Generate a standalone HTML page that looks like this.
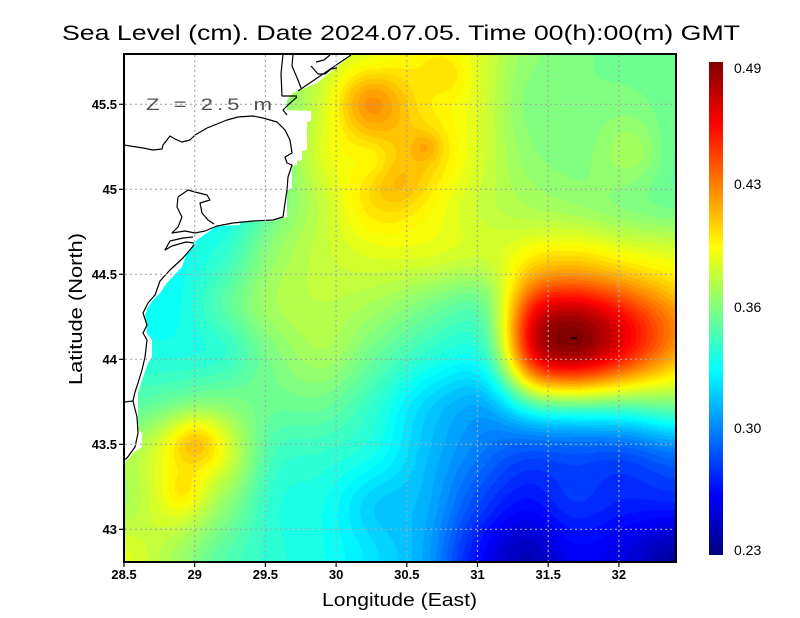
<!DOCTYPE html>
<html><head><meta charset="utf-8">
<style>
html,body{margin:0;padding:0;background:#fff;}
body{width:800px;height:618px;position:relative;overflow:hidden;}
#c{position:absolute;left:124px;top:54px;width:552px;height:508px;background:#90ff70;}
svg{position:absolute;left:0;top:0;}
</style></head><body>
<canvas id="c" width="552" height="508"></canvas>
<svg width="800" height="618" viewBox="0 0 800 618" xmlns="http://www.w3.org/2000/svg">
<defs>
<linearGradient id="jet" x1="0" y1="0" x2="0" y2="1">
<stop offset="0" stop-color="#800000"/>
<stop offset="0.125" stop-color="#ff0000"/>
<stop offset="0.375" stop-color="#ffff00"/>
<stop offset="0.625" stop-color="#00ffff"/>
<stop offset="0.875" stop-color="#0000ff"/>
<stop offset="1" stop-color="#000080"/>
</linearGradient>
</defs>
<!-- land mask -->
<polygon fill="#ffffff" points="124,54 353,54 345,60 333,70 317,83 293,93 287,100 287,110 311,111 311,121 307,122 307,150 302,151 302,160 297,161 297,165 292,166 292,189 287,190 287,217 283,218 273,221 240,222 240,225 217,226 207,233 197,240 187,253 182,267 177,272 167,283 160,293 153,300 148,307 145,315 147,333 152,340 152,357 148,363 142,380 138,393 138,430 142,433 142,447 133,453 125,463 124,463"/>
<!-- coastline -->
<g fill="none" stroke="#000" stroke-width="1.2" stroke-linejoin="round">
<polyline points="124,145 143,148 153,150 162,149 163,145 170,136 175,139 182,142 190,140 195,135 207,128 227,120 238,117 253,116 263,118 277,122 285,130 290,140 292,153 285,157 287,163 292,165 288,177 287,190 285,203 283,217 273,220 253,221 233,223 217,226 205,231 195,233"/>
<polyline points="178,197 188,190 195,192 207,195 210,200 200,203 202,213 208,220 214,224"/>
<polyline points="178,197 177,207 182,217 178,227 172,233 185,231 195,233"/>
<polyline points="193,237 183,238 170,241 165,250 172,246 186,242 194,243"/>
<polyline points="194,245 183,258 170,270 160,281 155,295 148,303 143,313 147,325 143,333 147,340 145,357 142,370 138,383 135,392 133,401 137,417 138,433 135,447 127,458 124,460"/>
<polyline points="124,402 133,401"/>
<polyline points="283,54 281,74 282,96 297,96"/>
<polyline points="293,54 292,66 298,80 301,88"/>
<polyline points="298,91 351,55"/>
<polyline points="311,66 318,74 325,74 331,69 337,68"/>
<polyline points="316,62 324,60 330,55"/>
<polyline points="297,97 289,104 283,110 287,115"/>
<line x1="571" y1="338" x2="577" y2="338" stroke-width="1.5"/>
</g>
<!-- grid -->
<g stroke="#a8a8a8" stroke-width="1.2" stroke-dasharray="2 3">
<line x1="194.7" y1="55" x2="194.7" y2="561"/>
<line x1="265.4" y1="55" x2="265.4" y2="561"/>
<line x1="336.1" y1="55" x2="336.1" y2="561"/>
<line x1="406.8" y1="55" x2="406.8" y2="561"/>
<line x1="477.5" y1="55" x2="477.5" y2="561"/>
<line x1="548.2" y1="55" x2="548.2" y2="561"/>
<line x1="618.9" y1="55" x2="618.9" y2="561"/>
<line x1="125" y1="529.3" x2="675" y2="529.3"/>
<line x1="125" y1="444.3" x2="675" y2="444.3"/>
<line x1="125" y1="359.3" x2="675" y2="359.3"/>
<line x1="125" y1="274.3" x2="675" y2="274.3"/>
<line x1="125" y1="189.3" x2="675" y2="189.3"/>
<line x1="125" y1="104.3" x2="675" y2="104.3"/>
</g>
<!-- frame -->
<rect x="124" y="54" width="552" height="508" fill="none" stroke="#000" stroke-width="2"/>
<!-- ticks -->
<g stroke="#000" stroke-width="1.2">
<line x1="119" y1="529.3" x2="124" y2="529.3"/>
<line x1="119" y1="444.3" x2="124" y2="444.3"/>
<line x1="119" y1="359.3" x2="124" y2="359.3"/>
<line x1="119" y1="274.3" x2="124" y2="274.3"/>
<line x1="119" y1="189.3" x2="124" y2="189.3"/>
<line x1="119" y1="104.3" x2="124" y2="104.3"/>
<line x1="124" y1="562" x2="124" y2="567"/>
<line x1="194.7" y1="562" x2="194.7" y2="567"/>
<line x1="265.4" y1="562" x2="265.4" y2="567"/>
<line x1="336.1" y1="562" x2="336.1" y2="567"/>
<line x1="406.8" y1="562" x2="406.8" y2="567"/>
<line x1="477.5" y1="562" x2="477.5" y2="567"/>
<line x1="548.2" y1="562" x2="548.2" y2="567"/>
<line x1="618.9" y1="562" x2="618.9" y2="567"/>
</g>
<!-- tick labels -->
<g font-family="Liberation Sans, sans-serif" font-size="13" font-weight="bold" fill="#000">
<g text-anchor="end">
<text x="117" y="534">43</text>
<text x="117" y="449">43.5</text>
<text x="117" y="364">44</text>
<text x="117" y="279">44.5</text>
<text x="117" y="194">45</text>
<text x="117" y="109">45.5</text>
</g>
<g text-anchor="middle">
<text x="124" y="579">28.5</text>
<text x="194.7" y="579">29</text>
<text x="265.4" y="579">29.5</text>
<text x="336.1" y="579">30</text>
<text x="406.8" y="579">30.5</text>
<text x="477.5" y="579">31</text>
<text x="548.2" y="579">31.5</text>
<text x="618.9" y="579">32</text>
</g>
</g>
<!-- titles -->
<g font-family="Liberation Sans, sans-serif" fill="#000">
<text x="62" y="40" font-size="21" textLength="678" lengthAdjust="spacingAndGlyphs">Sea Level (cm). Date 2024.07.05. Time 00(h):00(m) GMT</text>
<text x="399.5" y="606" font-size="18" text-anchor="middle" textLength="155" lengthAdjust="spacingAndGlyphs">Longitude (East)</text>
<text transform="translate(82,309) rotate(-90)" x="0" y="0" font-size="18" text-anchor="middle" textLength="152" lengthAdjust="spacingAndGlyphs">Latitude (North)</text>
<text x="146" y="110" font-size="17" fill="#505050" textLength="130" lengthAdjust="spacingAndGlyphs" letter-spacing="3">Z = 2.5 m</text>
</g>
<!-- colorbar -->
<rect x="709" y="62" width="14" height="493" fill="url(#jet)"/>
<g font-family="Liberation Sans, sans-serif" font-size="14" fill="#000">
<text x="734" y="73">0.49</text>
<text x="734" y="189">0.43</text>
<text x="734" y="312">0.36</text>
<text x="734" y="433">0.30</text>
<text x="734" y="555">0.23</text>
</g>
</svg>
<script>
(function(){
var G=[
[0.37,0.37,0.37,0.37,0.375,0.385,0.395,0.385,0.365,0.36,0.355,0.355],
[0.35,0.35,0.35,0.36,0.38,0.41,0.398,0.385,0.362,0.358,0.36,0.355],
[0.34,0.34,0.34,0.355,0.385,0.40,0.405,0.385,0.365,0.36,0.365,0.352],
[0.33,0.33,0.33,0.355,0.378,0.40,0.395,0.38,0.37,0.365,0.36,0.355],
[0.33,0.33,0.34,0.365,0.378,0.385,0.385,0.38,0.375,0.375,0.37,0.37],
[0.33,0.33,0.35,0.37,0.375,0.37,0.36,0.35,0.35,0.35,0.35,0.35],
[0.335,0.335,0.34,0.36,0.37,0.355,0.34,0.33,0.33,0.33,0.33,0.33],
[0.35,0.355,0.36,0.355,0.355,0.34,0.318,0.305,0.30,0.30,0.31,0.33],
[0.37,0.385,0.38,0.345,0.34,0.332,0.312,0.295,0.28,0.28,0.28,0.29],
[0.37,0.385,0.365,0.338,0.332,0.315,0.308,0.282,0.265,0.275,0.27,0.27],
[0.385,0.37,0.35,0.338,0.332,0.32,0.305,0.268,0.245,0.26,0.255,0.24]];
var NX=12,NY=11;
function g(i,j){if(i<0)i=0;if(i>NX-1)i=NX-1;if(j<0)j=0;if(j>NY-1)j=NY-1;return G[j][i];}
function cr(p0,p1,p2,p3,t){return 0.5*((2*p1)+(-p0+p2)*t+(2*p0-5*p1+4*p2-p3)*t*t+(-p0+3*p1-3*p2+p3)*t*t*t);}
function base(x,y){
 var fx=(x-124)/50, fy=(y-54)/50;
 var i=Math.floor(fx), j=Math.floor(fy);
 var tx=fx-i, ty=fy-j;
 var r=[];
 for(var m=-1;m<=2;m++){r.push(cr(g(i-1,j+m),g(i,j+m),g(i+1,j+m),g(i+2,j+m),tx));}
 return cr(r[0],r[1],r[2],r[3],ty);
}
var B=[[362,98,0.012,24],[400,185,0.008,18],[426,147,0.01,10],[450,75,0.008,15],
[195,440,0.026,20],[185,492,0.012,14],[370,160,-0.006,14],[640,150,0.006,20]];
function val(x,y){
 var b=base(x,y);
 for(var k=0;k<B.length;k++){
  var dx=x-B[k][0],dy=y-B[k][1],s=B[k][3];
  b+=B[k][2]*Math.exp(-(dx*dx+dy*dy)/(2*s*s));
 }
 var ex=x-575, ey=y-338, Lx, Ly;
 if(ex<0) Lx=Math.pow(-ex/69,3.5); else Lx=Math.pow(ex/145,1.5);
 if(ey<0) Ly=Math.pow(-ey/69,2.25); else Ly=Math.pow(ey/61,2.14);
 var f=Math.exp(-(Lx+Ly));
 return b*(1-f)+0.49*f;
}
function cl(v){return v<0?0:(v>1?1:v);}
var c=document.getElementById('c');
var ctx=c.getContext('2d');
var W=552,H=508;
var img=ctx.createImageData(W,H);
var d=img.data;
for(var py=0;py<H;py++){
 for(var px=0;px<W;px++){
  var v=val(124+px+0.5,54+py+0.5);
  var t=(v-0.23)/0.26;
  t=cl(t);
  t=Math.round(t*60)/60;
  var r=cl(1.5-Math.abs(4*t-3)), gg=cl(1.5-Math.abs(4*t-2)), bb=cl(1.5-Math.abs(4*t-1));
  var o=(py*W+px)*4;
  d[o]=Math.round(r*255);d[o+1]=Math.round(gg*255);d[o+2]=Math.round(bb*255);d[o+3]=255;
 }
}
ctx.putImageData(img,0,0);
})();
</script>
</body></html>
